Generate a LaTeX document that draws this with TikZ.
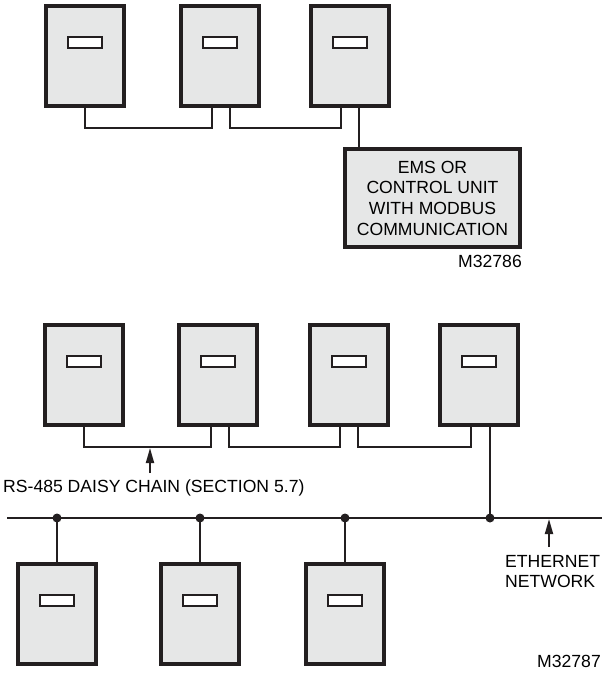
\documentclass[tikz,border=0pt]{standalone}
\usepackage{fontspec}
\setmainfont{Liberation Sans}
\usetikzlibrary{calc,arrows.meta}
\definecolor{ink}{HTML}{231F20}
\definecolor{panel}{HTML}{E6E7E7}
\begin{document}
\begin{tikzpicture}[x=1pt, y=-1pt, font=\fontsize{17.6}{20.7}\selectfont,
    unit/.style={draw=ink, fill=panel, line width=4pt, minimum width=78pt, minimum height=100pt, inner sep=0pt},
    slot/.style={draw=ink, fill=white, line width=1.8pt, minimum width=34pt, minimum height=11pt, inner sep=0pt},
    wire/.style={draw=ink, line width=1.8pt},
    dot/.style={circle, fill=ink, inner sep=0pt, minimum size=9pt},
    tag/.style={-{Triangle[length=15pt,width=8pt]}, draw=ink, line width=1.8pt}]
  \useasboundingbox (0,0) rectangle (602,673);
  \foreach \n/\ox/\oy in {t1/85/56, t2/220/56, t3/350/56, u1/84/375, u2/218/375, u3/349/375, u4/479/375, l1/57/614, l2/200/614, l3/345/614} {
    \node[unit] (\n) at (\ox,\oy) {};
    \node[slot] (\n-w) at ($(\n.north)+(0,38.5)$) {};
  }
  \node[unit, minimum width=175pt, minimum height=98pt, align=center] (ems) at (432.5,198)
    {EMS OR\\CONTROL UNIT\\WITH MODBUS\\COMMUNICATION};
  \node[anchor=base east, inner sep=0pt] (m1) at (522,267) {M32786};
  \draw[wire] (t1.south) -- ++(0,20) -| ([xshift=-8pt]t2.south);
  \draw[wire] ([xshift=10pt]t2.south) -- ++(0,20) -| ([xshift=-9pt]t3.south);
  \draw[wire] ([xshift=9pt]t3.south) -- ([xshift=9pt]t3.south |- ems.north);

  \draw[wire] (u1.south) -- ++(0,20) -| ([xshift=-7pt]u2.south);
  \draw[wire] ([xshift=11pt]u2.south) -- ++(0,20) -| ([xshift=-9pt]u3.south);
  \draw[wire] ([xshift=9pt]u3.south) -- ++(0,20) -| ([xshift=-8pt]u4.south);
  \node[anchor=base west, inner sep=0pt] (rs) at (3,492.5) {RS-485 DAISY CHAIN (SECTION 5.7)};
  \coordinate (rsfoot) at (150,473);
  \coordinate (rshead) at (150,448);
  \draw[tag] (rsfoot) -- (rshead);

  \coordinate (ethw) at (7,518);
  \coordinate (ethe) at (602,518);
  \draw[wire, line width=2pt] (ethw) -- (ethe);
  \draw[wire] ([xshift=11pt]u4.south) -- ([xshift=11pt]u4.south |- ethw) node[dot] (j4) {};
  \foreach \n in {l1,l2,l3} {
    \draw[wire] (\n.north) -- (\n.north |- ethw) node[dot] (\n-j) {};
  }
  \node[anchor=west, align=left, inner sep=0pt] (eth) at (505,571.5) {ETHERNET\\NETWORK};
  \coordinate (ethfoot) at (549,547);
  \coordinate (ethhead) at (549,519);
  \draw[tag] (ethfoot) -- (ethhead);
  \node[anchor=base east, inner sep=0pt] (m2) at (601,667) {M32787};
\end{tikzpicture}
\end{document}
